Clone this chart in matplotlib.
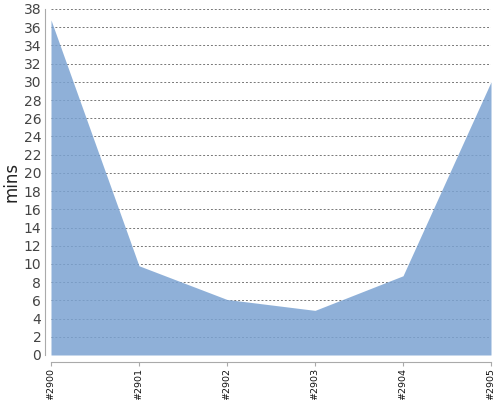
import matplotlib
matplotlib.use("Agg")
import matplotlib.pyplot as plt

builds = ["#2900", "#2901", "#2902", "#2903", "#2904", "#2905"]
mins = [36.8, 9.8, 6.1, 4.9, 8.7, 30.0]
yticks = list(range(0, 39, 2))

fig = plt.figure(figsize=(5, 4), dpi=100)
ax = fig.add_axes([0.102, 0.1125, 0.880, 0.865])
x = list(range(len(builds)))
ax.fill_between(x, 0, mins, color="#7BA3D2", alpha=0.85, linewidth=0, zorder=2)
ax.set_xlim(0, len(builds) - 1)
ax.set_ylim(0, 38)
ax.set_yticks(yticks)
ax.set_xticks(x)
ax.set_xticklabels(builds)
ax.tick_params(axis="y", length=0, labelsize=10, labelcolor="#444444", pad=3)
ax.tick_params(axis="x", length=3, color="#aaaaaa", pad=1, labelrotation=90,
               labelsize=6.8, labelcolor="#111111")
ax.yaxis.grid(True, linestyle=(0, (2, 2)), color="#777777", linewidth=0.7, zorder=1)
ax.set_axisbelow(True)
for s in ["top", "right"]:
    ax.spines[s].set_visible(False)
ax.spines["left"].set_position(("outward", 4))
ax.spines["bottom"].set_position(("outward", 5))
ax.spines["left"].set_color("#aaaaaa")
ax.spines["bottom"].set_color("#aaaaaa")
ax.set_ylabel("mins", fontsize=12, color="#222222", labelpad=2)
fig.savefig("out.png", dpi=100)
